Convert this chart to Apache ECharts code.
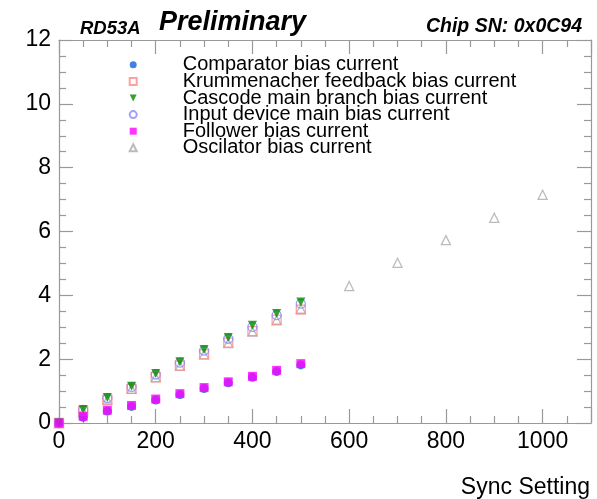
<!DOCTYPE html>
<html>
<head>
<meta charset="utf-8">
<script src="https://cdn.jsdelivr.net/npm/echarts@6/dist/echarts.min.js"></script>
<style>
  html, body { margin: 0; padding: 0; background: #fff; }
  #chart { width: 597px; height: 499px; }
</style>
</head>
<body>
<div id="chart"></div>
<script>
// sync settings
const syncX = [0, 50, 100, 150, 200, 250, 300, 350, 400, 450, 500]
const oscX = [0, 50, 100, 150, 200, 250, 300, 350, 400, 450, 500, 600, 700, 800, 900, 1000]

// currents
const comparator = [0, 0.18, 0.37, 0.52, 0.72, 0.89, 1.08, 1.26, 1.43, 1.61, 1.82]
const krummenacher = [0, 0.38, 0.73, 1.07, 1.44, 1.80, 2.15, 2.52, 2.88, 3.24, 3.55]
const cascode = [0, 0.42, 0.80, 1.15, 1.55, 1.92, 2.30, 2.68, 3.06, 3.43, 3.79]
const inputDevice = [0, 0.41, 0.78, 1.13, 1.52, 1.89, 2.27, 2.64, 3.01, 3.38, 3.74]
const follower = [0, 0.21, 0.40, 0.55, 0.75, 0.92, 1.11, 1.29, 1.46, 1.65, 1.86]
const oscillator = [0, 0.36, 0.72, 1.07, 1.43, 1.79, 2.15, 2.50, 2.86, 3.22, 3.58, 4.29, 5.02, 5.73, 6.43, 7.15]

const names = [
  'Comparator bias current',
  'Krummenacher feedback bias current',
  'Cascode main branch bias current',
  'Input device main bias current',
  'Follower bias current',
  'Oscilator bias current'
]

const font = '"Liberation Sans", Arial, sans-serif'
const frameColor = '#999'

function pairs(xs, ys) {
  return xs.map((x, i) => [x, ys[i]])
}

function frameAxis(extra) {
  return Object.assign({
    type: 'value',
    axisLine: { show: true, onZero: false, lineStyle: { color: frameColor, width: 1.2 } },
    axisTick: { show: true, inside: true, length: 14, lineStyle: { color: frameColor, width: 1.2 } },
    minorTick: { show: true, splitNumber: 4, length: 7, lineStyle: { color: frameColor, width: 1.2 } },
    splitLine: { show: false },
    axisLabel: { show: false }
  }, extra)
}

const chart = echarts.init(document.getElementById('chart'))

chart.setOption({
  animation: false,
  backgroundColor: '#fff',
  title: [
    { text: 'RD53A', left: 75, top: 14, textStyle: { fontFamily: font, fontStyle: 'italic', fontWeight: 'bold', fontSize: 18.5, color: '#000' } },
    { text: 'Preliminary', left: 154, top: 4, textStyle: { fontFamily: font, fontStyle: 'italic', fontWeight: 'bold', fontSize: 27, color: '#000' } },
    { text: 'Chip SN: 0x0C94', right: 10, top: 12, textStyle: { fontFamily: font, fontStyle: 'italic', fontWeight: 'bold', fontSize: 19.5, color: '#000' } }
  ],
  legend: {
    orient: 'vertical',
    left: 123.7,
    top: 49.8,
    itemWidth: 7,
    itemHeight: 7,
    itemGap: -3.4,
    data: names.map((n, i) => i === 2 ? { name: n, icon: 'path://M0,0L10,0L5,10Z' } : n),
    textStyle: { fontFamily: font, fontSize: 20, color: '#000', lineHeight: 16.6, padding: [0, 0, 0, 41] }
  },
  grid: { left: 59, right: 6, top: 40, bottom: 76 },
  xAxis: [
    frameAxis({
      min: 0, max: 1100, interval: 200,
      name: 'Sync Setting',
      nameLocation: 'end',
      nameGap: -1,
      nameTextStyle: { fontFamily: font, fontSize: 23, color: '#000', align: 'right', verticalAlign: 'top', padding: [53, 0, 0, 0] },
      axisLabel: { show: true, showMaxLabel: false, margin: 7, fontFamily: font, fontSize: 23, color: '#000', formatter: v => String(v) }
    }),
    frameAxis({ min: 0, max: 1100, interval: 200, position: 'top' })
  ],
  yAxis: [
    frameAxis({
      min: 0, max: 12, interval: 2,
      axisLabel: { show: true, margin: 8, fontFamily: font, fontSize: 23, color: '#000' }
    }),
    frameAxis({ min: 0, max: 12, interval: 2, position: 'right' })
  ],
  series: [
    {
      name: names[5], type: 'scatter', symbol: 'triangle', symbolSize: 9,
      itemStyle: { color: 'rgba(0,0,0,0)', borderColor: '#aaa', borderWidth: 1.3 },
      data: pairs(oscX, oscillator)
    },
    {
      name: names[0], type: 'scatter', symbol: 'circle', symbolSize: 9,
      itemStyle: { color: '#1560d8' },
      data: pairs(syncX, comparator)
    },
    {
      name: names[1], type: 'scatter', symbol: 'rect', symbolSize: 9,
      itemStyle: { color: 'rgba(0,0,0,0)', borderColor: '#ff8888', borderWidth: 1.3 },
      data: pairs(syncX, krummenacher)
    },
    {
      name: names[3], type: 'scatter', symbol: 'circle', symbolSize: 9,
      itemStyle: { color: 'rgba(0,0,0,0)', borderColor: '#8888ff', borderWidth: 1.3 },
      data: pairs(syncX, inputDevice)
    },
    {
      name: names[2], type: 'scatter', symbol: 'triangle', symbolRotate: 180, symbolSize: 9,
      itemStyle: { color: '#008a00' },
      data: pairs(syncX, cascode)
    },
    {
      name: names[4], type: 'scatter', symbol: 'rect', symbolSize: 9,
      itemStyle: { color: '#ff00ff' },
      data: pairs(syncX, follower)
    }
  ]
})
</script>
</body>
</html>
